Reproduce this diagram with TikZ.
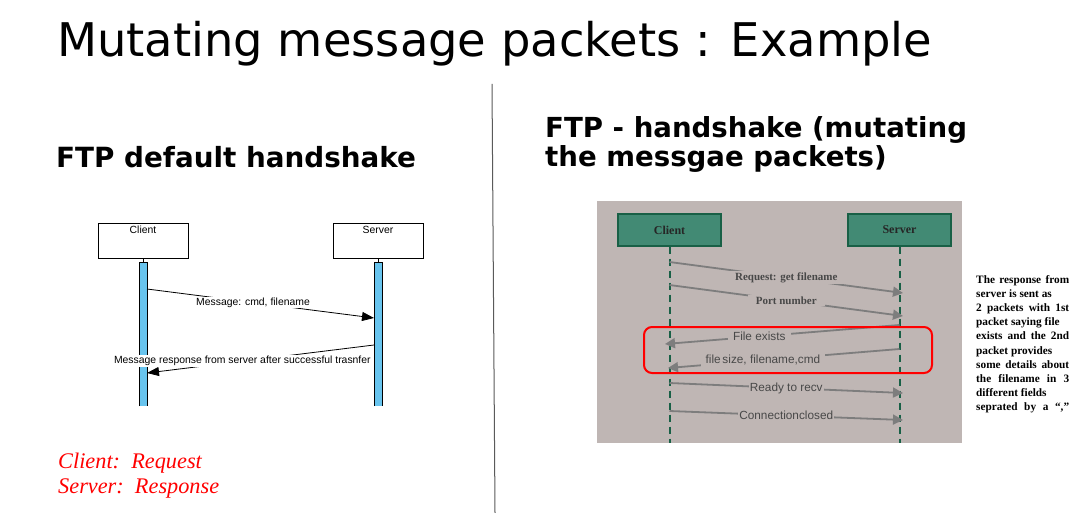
\documentclass[tikz,border=0pt]{standalone}
\usepackage{fontspec}
\setmainfont{Liberation Serif}
\newfontfamily\dejavu{DejaVu Sans}
\newfontfamily\libsans{Liberation Sans}
\newfontfamily\libserif{Liberation Serif}
\usetikzlibrary{arrows.meta}
\definecolor{bluebar}{RGB}{104,196,238}
\definecolor{tealfill}{RGB}{66,138,116}
\definecolor{tealdark}{RGB}{24,96,70}
\definecolor{panelbg}{RGB}{191,182,180}
\definecolor{arrowgray}{RGB}{125,125,125}
\definecolor{labelgray}{RGB}{72,72,72}
\definecolor{divgray}{RGB}{90,90,90}
\tikzset{
  plain/.style={inner sep=0pt, anchor=base west},
  lbox/.style={draw=black, line width=0.8pt, minimum width=90pt, minimum height=35pt, inner sep=0pt},
  ltext/.style={font={\fontsize{10.4}{12}\libsans}, inner sep=0pt},
  llabel/.style={font={\fontsize{10.4}{12}\libsans}, fill=white, inner sep=1pt},
  larrow/.style={draw=black, line width=0.8pt, -{Triangle[length=12pt,width=9pt]}},
  rbox/.style={draw=tealdark, fill=tealfill, line width=1.2pt, minimum width=103pt, minimum height=32pt, inner sep=0pt, font={\fontsize{12}{14}\libserif\bfseries}, text=black!85},
  lifeline/.style={draw=tealdark, line width=2pt, dash pattern=on 7pt off 5pt},
  rarrow/.style={draw=arrowgray, line width=1.8pt, -{Triangle[length=10pt,width=10pt]}},
  rlabserif/.style={font={\fontsize{11}{13}\libserif\bfseries}, text=labelgray, fill=panelbg, inner xsep=8pt, inner ysep=1.5pt},
  rlabsans/.style={font={\fontsize{11.8}{14}\libsans}, text=labelgray, fill=panelbg, inner xsep=5pt, inner ysep=1.5pt},
}
\begin{document}
\begin{tikzpicture}[x=1pt,y=-1pt]
\useasboundingbox (0,0) rectangle (1081,513);
\fill[white] (0,0) rectangle (1081,513);

% titles
\node[plain] (title) at (57,57) {\fontsize{46.4}{50}\dejavu Mutating message packets : Example};
\node[plain] (hleft) at (56,168) {\fontsize{27.8}{30}\dejavu\bfseries FTP default handshake};
\node[plain] (hright1) at (545,138) {\fontsize{27.6}{30}\dejavu\bfseries FTP - handshake (mutating};
\node[plain] (hright2) at (545,167) {\fontsize{27.6}{30}\dejavu\bfseries the messgae packets)};

% divider
\draw[divgray, line width=1pt] (492,84) -- (495,513);

% left diagram
\node[lbox] (lclient) at (143,240.5) {};
\node[lbox] (lserver) at (378,240.5) {};
\path (lclient.north) ++(0,11) node[ltext, anchor=base] (lclientt) {Client};
\path (lserver.north) ++(0,11) node[ltext, anchor=base] (lservert) {Server};
\draw[black, line width=0.8pt] (lclient.south) -- (143,262);
\draw[black, line width=0.8pt] (lserver.south) -- (378,262);
\draw[black, line width=0.8pt, fill=bluebar] (139,406) -- (139,262) -- (147,262) -- (147,406);
\draw[black, line width=0.8pt, fill=bluebar] (374,406) -- (374,262) -- (382,262) -- (382,406);
\coordinate (lc1) at (147,289);
\coordinate (ls1) at (374,318);
\coordinate (ls2) at (374,345);
\coordinate (lc2) at (147,373);
\draw[larrow] (lc1) -- node[llabel, pos=0.467] (lm1) {Message: cmd, filename} (ls1);
\draw[larrow] (ls2) -- node[llabel, pos=0.58] (lm2) {Message response from server after successful trasnfer} (lc2);

% red notes
\node[plain, text=red] (note1) at (58,468) {\fontsize{22.3}{25}\selectfont\itshape Client:\ \ Request};
\node[plain, text=red] (note2) at (58,493) {\fontsize{22.3}{25}\selectfont\itshape Server:\ \ Response};

% right diagram
\fill[panelbg] (597,201) rectangle (962,443);
\node[rbox] (rclient) at (669.5,230) {Client};
\node[rbox] (rserver) at (899.5,230) {Server};
\coordinate (rcend) at (669.5,443);
\coordinate (rsend) at (899.5,443);
\draw[lifeline] (rclient.south) -- (rcend);
\draw[lifeline] (rserver.south) -- (rsend);

\coordinate (a1s) at (669.5,262); \coordinate (a1e) at (903,293);
\coordinate (a2s) at (669.5,285); \coordinate (a2e) at (903,316);
\coordinate (a3s) at (899.5,325); \coordinate (a3e) at (665,344);
\coordinate (a4s) at (899.5,349); \coordinate (a4e) at (668,368);
\coordinate (a5s) at (669.5,383); \coordinate (a5e) at (903,393);
\coordinate (a6s) at (669.5,411); \coordinate (a6e) at (903,420);
\draw[rarrow] (a1s) -- node[rlabserif, pos=0.5] (m1) {Request: get filename} (a1e);
\draw[rarrow] (a2s) -- node[rlabserif, pos=0.5] (m2) {Port number} (a2e);
\draw[rarrow] (a3s) -- node[rlabsans, pos=0.598] (m3) {File exists} (a3e);
\draw[rarrow] (a4s) -- node[rlabsans, pos=0.59] (m4) {file\hspace{0.15em}size, filename,\hspace{0em}cmd} (a4e);
\draw[rarrow] (a5s) -- node[rlabsans, pos=0.5, inner xsep=1pt] (m5) {Ready to recv} (a5e);
\draw[rarrow] (a6s) -- node[rlabsans, pos=0.5, inner xsep=1pt] (m6) {Connection\hspace{0em}closed} (a6e);

\draw[red, line width=2pt, rounded corners=8pt] (644,327) rectangle (932,373);

% side note
\node[anchor=north west, inner sep=0pt, align=left, font={\fontsize{11.3}{14.2}\libserif\bfseries}] (side) at (976,275) {%
\makebox[93pt][s]{The response from}\\
server is sent as\\
\makebox[93pt][s]{2 packets with 1st}\\
packet saying file\\
\makebox[93pt][s]{exists and the 2nd}\\
packet provides\\
\makebox[93pt][s]{some details about}\\
\makebox[93pt][s]{the filename in 3}\\
different fields\\
\makebox[93pt][s]{seprated by a “,”}};
\end{tikzpicture}
\end{document}
